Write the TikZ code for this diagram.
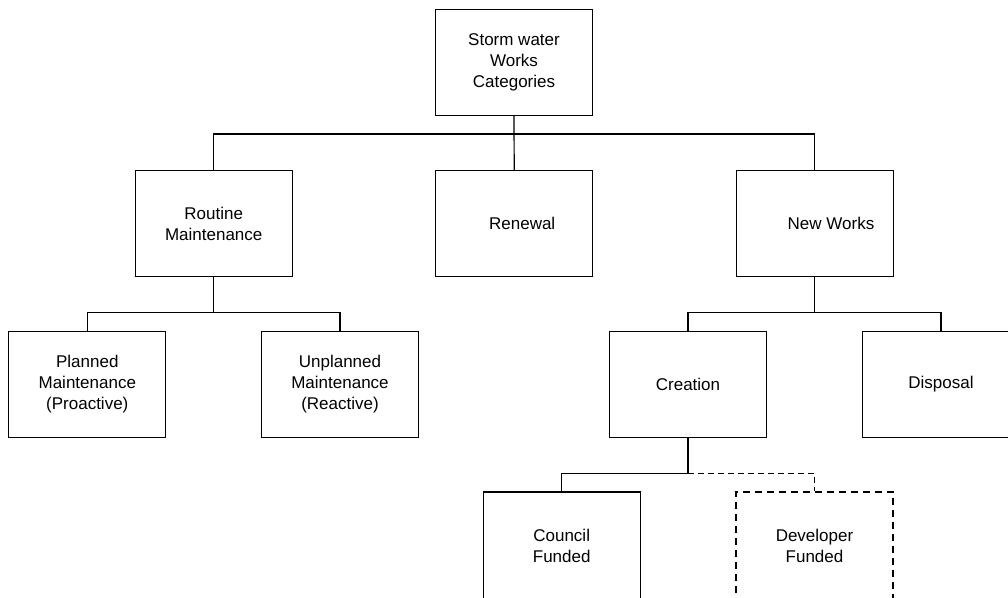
\documentclass[tikz,border=0pt]{standalone}
\usepackage{fontspec}
\setmainfont{Liberation Sans}
\begin{document}
\begin{tikzpicture}[x=1pt,y=1pt,
  box/.style={draw=black,line width=1.2pt,minimum width=157pt,minimum height=106pt,inner sep=0pt,align=center,font=\fontsize{17}{21}\selectfont,text=black},
  lowbox/.style={box,minimum height=108pt},
  dbox/.style={lowbox,line width=2pt,dash pattern=on 7pt off 5pt},
  conn/.style={draw=black,line width=1.2pt},
  dconn/.style={conn,line width=1.4pt,dash pattern=on 6pt off 4pt}]
\useasboundingbox (0,0) rectangle (1008,-597);
\clip (0,0) rectangle (1008,-597);
\node[box] (top) at (514,-62.5) {Storm water\\Works\\Categories};
\node[box] (routine) at (213.7,-223.7) {Routine\\Maintenance};
\node[box] (renewal) at (514.2,-223.7) {\hspace*{16pt}Renewal};
\node[box] (newworks) at (814.7,-223.7) {\hspace*{32.6pt}New Works};
\node[box] (planned) at (87.3,-384.2) {Planned\\Maintenance\\(Proactive)};
\node[box] (unplanned) at (340,-384.2) {Unplanned\\Maintenance\\(Reactive)};
\node[box] (creation) at (688,-384.5) {Creation};
\node[box] (disposal) at (941,-384.5) {Disposal};
\node[lowbox] (council) at (561.7,-546) {Council\\Funded};
\node[dbox] (developer) at (814.5,-546) {Developer\\Funded};
\coordinate (b1) at (514,-134);
\coordinate (b2) at (213.7,-312.7);
\coordinate (b3) at (814.7,-312.7);
\coordinate (b4) at (688,-473.3);
\path[conn] (top.south) -- (renewal.north);
\path[conn] (routine.north) -- (routine.north|-b1) -- (newworks.north|-b1) -- (newworks.north);
\path[conn] (routine.south) -- (b2);
\path[conn] (planned.north) -- (planned.north|-b2) -- (unplanned.north|-b2) -- (unplanned.north);
\path[conn] (newworks.south) -- (b3);
\path[conn] (creation.north) -- (creation.north|-b3) -- (disposal.north|-b3) -- (disposal.north);
\path[conn] (creation.south) -- (b4) -- (council.north|-b4) -- (council.north);
\path[dconn] (b4) -- (developer.north|-b4) -- (developer.north);
\end{tikzpicture}
\end{document}
